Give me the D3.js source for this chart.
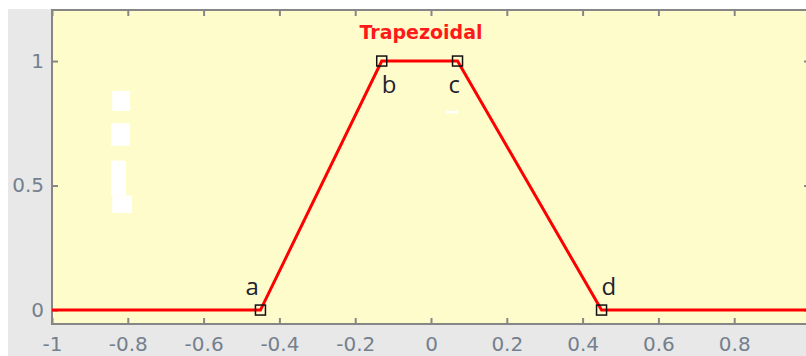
<!DOCTYPE html>
<html>
<head>
<meta charset="utf-8">
<script src="https://cdn.jsdelivr.net/npm/d3@7"></script>
<style>
  body { margin: 0; background: #fff; }
  svg { display: block; }
</style>
</head>
<body>
<div id="chart"></div>
<script>
// ── Data ──
const pointNames = ['a', 'b', 'c', 'd'];
const pointX = [-0.45, -0.13, 0.07, 0.45];
const pointY = [0, 1, 1, 0];
const curveX = [-1, -0.45, -0.13, 0.07, 0.45, 1];
const curveY = [0, 0, 1, 1, 0, 0];
const xTicks = [-1, -0.8, -0.6, -0.4, -0.2, 0, 0.2, 0.4, 0.6, 0.8, 1];
const yTicks = [0, 0.5, 1];
const title = 'Trapezoidal';
// white blotches left in the picture (data coords: x0, x1, y0, y1)
const blotches = [
  [-0.841, -0.794, 0.88, 0.80],
  [-0.844, -0.794, 0.75, 0.66],
  [-0.844, -0.805, 0.60, 0.46],
  [-0.841, -0.789, 0.46, 0.39],
  [0.040, 0.071, 0.80, 0.79]
];

const W = 806, H = 356;
const plot = { left: 52, right: 810, top: 10, bottom: 324 };

const x = d3.scaleLinear().domain([-1, 1]).range([plot.left, plot.right]);
const y = d3.scaleLinear().domain([-0.056, 1.205]).range([plot.bottom, plot.top]);

const svg = d3.select('#chart').append('svg')
  .attr('width', W).attr('height', H);

// outer grey panel
svg.append('rect')
  .attr('x', 8).attr('y', 9).attr('width', W - 8).attr('height', H - 9)
  .attr('fill', '#e8e8e8');

// plot background
svg.append('rect')
  .attr('x', plot.left).attr('y', plot.top)
  .attr('width', plot.right - plot.left).attr('height', plot.bottom - plot.top)
  .attr('fill', '#fffccc');

// blotches
svg.selectAll('rect.blotch').data(blotches).enter().append('rect')
  .attr('class', 'blotch')
  .attr('x', d => x(d[0])).attr('width', d => x(d[1]) - x(d[0]))
  .attr('y', d => y(d[2])).attr('height', d => y(d[3]) - y(d[2]))
  .attr('fill', '#ffffff');

// Axes
const axisColor = '#868686';
const labelColor = '#74808e';

function styleAxis(g) {
  g.select('.domain').remove();
  g.selectAll('line').attr('stroke', axisColor).attr('stroke-width', 2);
  g.selectAll('text')
    .attr('fill', labelColor)
    .attr('font-family', 'DejaVu Sans')
    .attr('font-size', 20);
}

const fmt = d => String(+d.toFixed(1));

svg.append('g').attr('transform', `translate(0,${plot.bottom})`)
  .call(d3.axisBottom(x).tickValues(xTicks).tickSize(-6).tickPadding(13).tickFormat(fmt))
  .call(styleAxis);
svg.append('g').attr('transform', `translate(0,${plot.top})`)
  .call(d3.axisTop(x).tickValues(xTicks).tickSize(-6).tickFormat(''))
  .call(styleAxis);
svg.append('g').attr('transform', `translate(${plot.left},0)`)
  .call(d3.axisLeft(y).tickValues(yTicks).tickSize(-6).tickPadding(8).tickFormat(fmt))
  .call(styleAxis);
svg.append('g').attr('transform', `translate(${plot.right},0)`)
  .call(d3.axisRight(y).tickValues(yTicks).tickSize(-6).tickFormat(''))
  .call(styleAxis);

// frame
svg.append('rect')
  .attr('x', plot.left).attr('y', plot.top)
  .attr('width', plot.right - plot.left).attr('height', plot.bottom - plot.top)
  .attr('fill', 'none').attr('stroke', axisColor).attr('stroke-width', 2);

// membership curve
const curve = curveX.map((v, i) => ({ x: v, y: curveY[i] }));
svg.append('path').datum(curve)
  .attr('fill', 'none').attr('stroke', '#ff0000')
  .attr('stroke-width', 3)
  .attr('d', d3.line().x(d => x(d.x)).y(d => y(d.y)));

// parameter markers
const pts = pointNames.map((n, i) => ({ name: n, x: pointX[i], y: pointY[i] }));
svg.selectAll('rect.marker').data(pts).enter().append('rect')
  .attr('class', 'marker')
  .attr('x', d => x(d.x) - 5).attr('y', d => y(d.y) - 5)
  .attr('width', 10).attr('height', 10)
  .attr('fill', 'none').attr('stroke', '#111').attr('stroke-width', 1.5);

const labelOffset = { a: [-15, -15], b: [0, 32], c: [-9, 32], d: [0, -15] };
svg.selectAll('text.plabel').data(pts).enter().append('text')
  .attr('class', 'plabel')
  .attr('x', d => x(d.x) + labelOffset[d.name][0])
  .attr('y', d => y(d.y) + labelOffset[d.name][1])
  .attr('font-family', 'Open Sans, Liberation Sans, sans-serif')
  .attr('font-size', 24)
  .attr('fill', '#1e2230')
  .text(d => d.name);

// title
svg.append('text')
  .attr('x', 421).attr('y', 39)
  .attr('text-anchor', 'middle')
  .attr('font-family', 'DejaVu Sans')
  .attr('font-weight', 'bold')
  .attr('font-size', 19)
  .attr('fill', '#ff1a1a')
  .text(title);
</script>
</body>
</html>
